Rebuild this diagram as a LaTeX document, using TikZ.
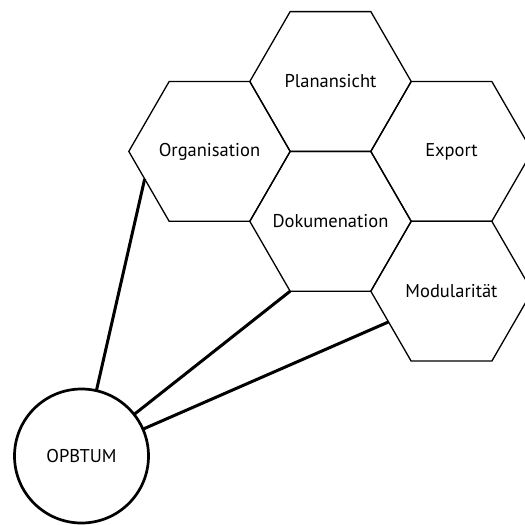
\documentclass[tikz,border=0pt]{standalone}
\usepackage{fontspec}
\setmainfont{PT Sans}
\usetikzlibrary{shapes.geometric}
\begin{document}
\begin{tikzpicture}[x=1pt,y=-1pt,
  celltext/.style={font=\fontsize{18.5}{20}\selectfont, inner sep=0pt},
  hexcell/.style={draw, regular polygon, regular polygon sides=6,
    minimum size=161.4pt, inner sep=0pt, outer sep=0pt, line width=1.3pt,
    label={[celltext]center:#1}},
  hub/.style={draw, circle, minimum size=134pt, inner sep=0pt, outer sep=0pt,
    line width=2.7pt, font=\fontsize{18.5}{20}\selectfont},
  link/.style={line width=3pt}]
\useasboundingbox (0,0) rectangle (525,525);
\clip (0,0) rectangle (525,525);
% honeycomb of topics (labels kept outside the shape size)
\node[hexcell=Planansicht]  (plan) at (330.5,81.5)  {};
\node[hexcell=Organisation] (org)  at (209.5,151.4) {};
\node[hexcell=Export]       (exp)  at (451.5,151.4) {};
\node[hexcell=Dokumenation] (dok)  at (330.5,221.3) {};
\node[hexcell=Modularität]  (mod)  at (451.5,291.2) {};
% central hub
\node[hub] (opb) at (81.5,456) {OPBTUM};
% connectors from the hub to the honeycomb
\draw[link] (opb) -- (org.203);
\draw[link] (opb) -- (dok.240);
\draw[link] (opb) -- (mod.206);
\end{tikzpicture}
\end{document}
